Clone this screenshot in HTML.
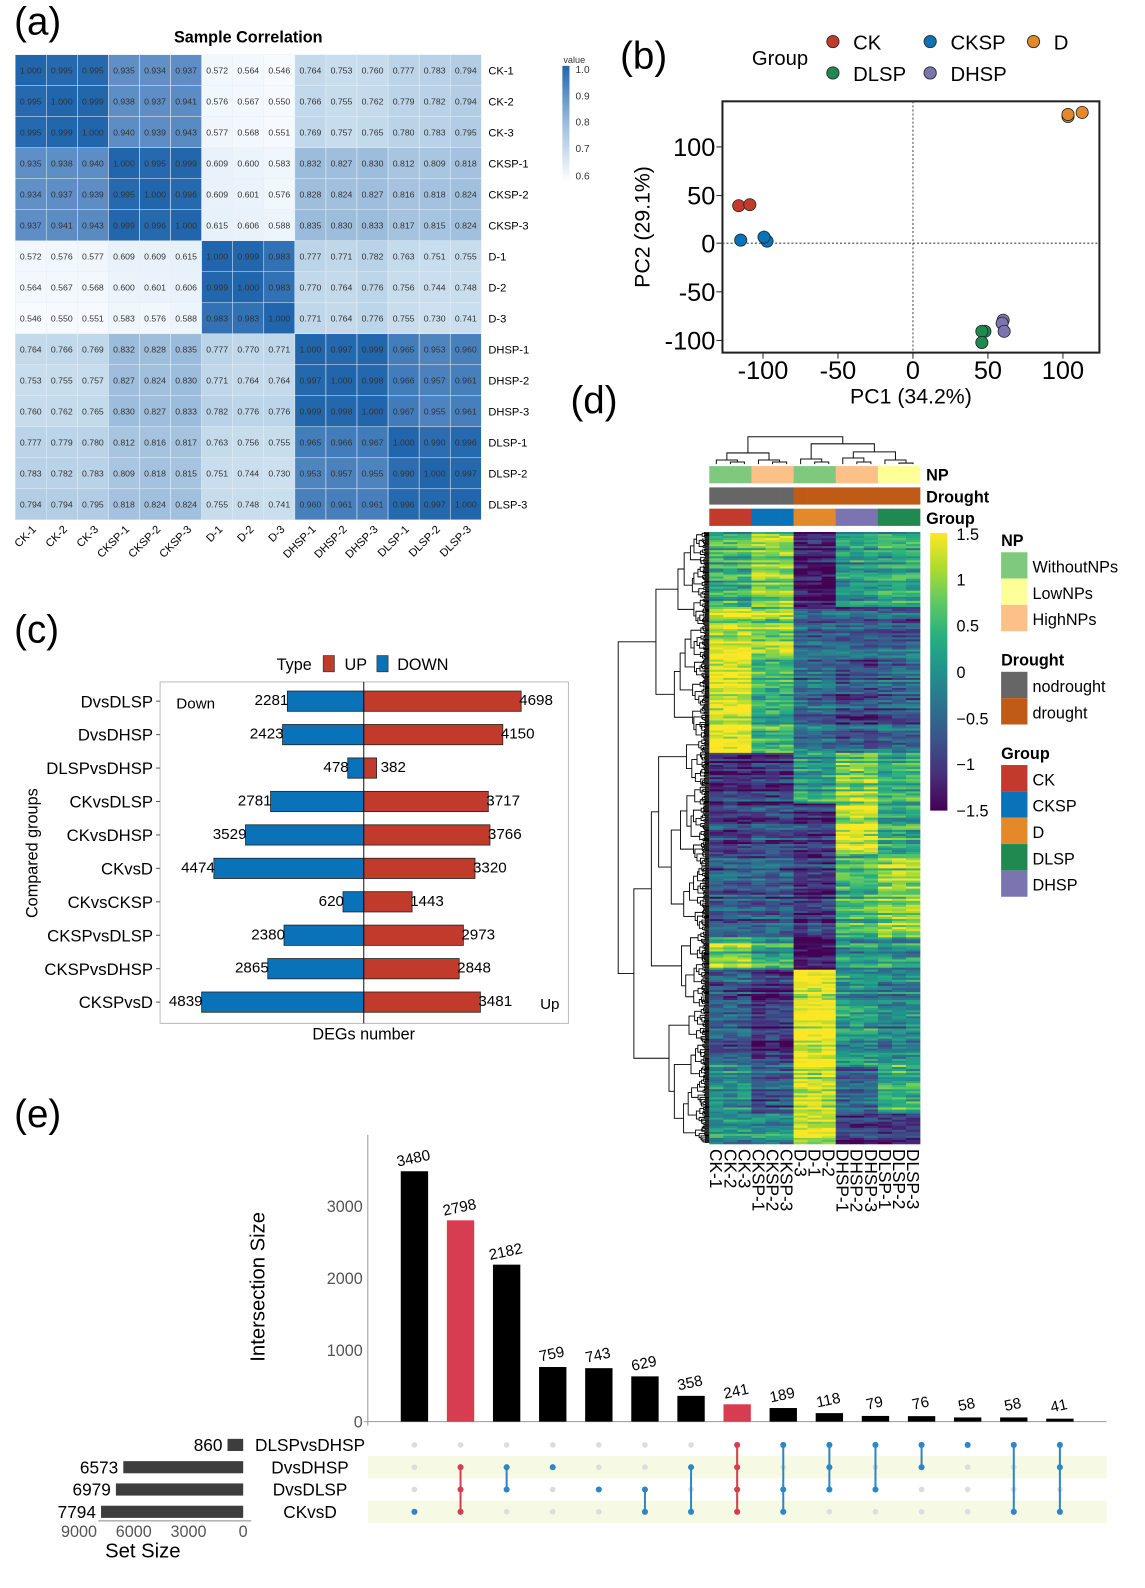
<!DOCTYPE html>
<html><head><meta charset="utf-8"><style>
html,body{margin:0;padding:0;background:#fff}
svg{display:block;font-family:"Liberation Sans",Arial,sans-serif}
</style></head><body>
<svg id="s" width="1145" height="1588" viewBox="0 0 1130 1567.2" xmlns="http://www.w3.org/2000/svg">
<defs>
<linearGradient id="cb" x1="0" y1="0" x2="0" y2="1"><stop offset="0" stop-color="#2166ac"/><stop offset="0.5" stop-color="#9dbfdd"/><stop offset="1" stop-color="#ffffff"/></linearGradient>
<linearGradient id="vir" x1="0" y1="1" x2="0" y2="0">
<stop offset="0" stop-color="#440154"/><stop offset="0.125" stop-color="#472d7b"/><stop offset="0.25" stop-color="#3b528b"/><stop offset="0.375" stop-color="#2c728e"/><stop offset="0.5" stop-color="#21918c"/><stop offset="0.625" stop-color="#28ae80"/><stop offset="0.75" stop-color="#5ec962"/><stop offset="0.875" stop-color="#addc30"/><stop offset="1" stop-color="#fde725"/></linearGradient>
</defs>
<g font-size="38"><text x="14" y="34">(a)</text><text x="612" y="68">(b)</text><text x="14" y="634">(c)</text><text x="563" y="408">(d)</text><text x="14" y="1112">(e)</text></g>
<text x="245" y="42" font-size="16" font-weight="bold" text-anchor="middle">Sample Correlation</text>
<g id="corr"></g>
<rect x="555" y="65" width="7" height="115" fill="url(#cb)"/>
<g font-size="10" fill="#333"><text x="556" y="62" font-size="9">value</text><text x="568" y="72">1.0</text><text x="568" y="98">0.9</text><text x="568" y="124">0.8</text><text x="568" y="150">0.7</text><text x="568" y="177">0.6</text></g>

<!-- PCA -->
<g font-size="20">
<text x="742" y="64">Group</text>
<circle cx="822" cy="41" r="6" fill="#c23a2c" stroke="#333"/><text x="842" y="49">CK</text>
<circle cx="918" cy="41" r="6" fill="#0a72b8" stroke="#333"/><text x="938" y="49">CKSP</text>
<circle cx="1020" cy="41" r="6" fill="#e3892a" stroke="#333"/><text x="1040" y="49">D</text>
<circle cx="822" cy="72" r="6" fill="#1f8a4f" stroke="#333"/><text x="842" y="80">DLSP</text>
<circle cx="918" cy="72" r="6" fill="#7b74b0" stroke="#333"/><text x="938" y="80">DHSP</text>
</g>
<rect x="713" y="100" width="372" height="248" fill="none" stroke="#222" stroke-width="2"/>
<line x1="901" y1="100" x2="901" y2="348" stroke="#444" stroke-dasharray="2,2"/>
<line x1="713" y1="240" x2="1085" y2="240" stroke="#444" stroke-dasharray="2,2"/>
<g stroke="#222"><line x1="707" y1="145" x2="713" y2="145"/><line x1="707" y1="193" x2="713" y2="193"/><line x1="707" y1="240" x2="713" y2="240"/><line x1="707" y1="288" x2="713" y2="288"/><line x1="707" y1="336" x2="713" y2="336"/>
<line x1="753" y1="348" x2="753" y2="354"/><line x1="827" y1="348" x2="827" y2="354"/><line x1="901" y1="348" x2="901" y2="354"/><line x1="975" y1="348" x2="975" y2="354"/><line x1="1049" y1="348" x2="1049" y2="354"/></g>
<g font-size="25" text-anchor="end"><text x="706" y="154">100</text><text x="706" y="202">50</text><text x="706" y="249">0</text><text x="706" y="297">-50</text><text x="706" y="345">-100</text></g>
<g font-size="25" text-anchor="middle"><text x="753" y="374">-100</text><text x="827" y="374">-50</text><text x="901" y="374">0</text><text x="975" y="374">50</text><text x="1049" y="374">100</text></g>
<text x="899" y="398" font-size="21" text-anchor="middle">PC1 (34.2%)</text>
<text transform="translate(641,224) rotate(-90)" font-size="21" text-anchor="middle">PC2 (29.1%)</text>
<g stroke="#222" stroke-width="0.8">
<circle cx="729" cy="203" r="6" fill="#c23a2c"/><circle cx="740" cy="202" r="6" fill="#c23a2c"/>
<circle cx="731" cy="237" r="6" fill="#0a72b8"/><circle cx="757" cy="238" r="6" fill="#0a72b8"/><circle cx="754" cy="234" r="6" fill="#0a72b8"/>
<circle cx="1054" cy="115" r="6" fill="#e3892a"/><circle cx="1054" cy="113" r="6" fill="#e3892a"/><circle cx="1068" cy="111" r="6" fill="#e3892a"/>
<circle cx="972" cy="327" r="6" fill="#1f8a4f"/><circle cx="969" cy="327" r="6" fill="#1f8a4f"/><circle cx="969" cy="338" r="6" fill="#1f8a4f"/>
<circle cx="990" cy="316" r="6" fill="#7b74b0"/><circle cx="989" cy="319" r="6" fill="#7b74b0"/><circle cx="991" cy="327" r="6" fill="#7b74b0"/>
</g>

<!-- (c) -->
<g font-size="16"><text x="273" y="661">Type</text><rect x="319" y="647" width="11" height="16" fill="#c23a2c" stroke="#333" stroke-width="0.7"/><text x="340" y="661">UP</text><rect x="372" y="647" width="11" height="16" fill="#0a72b8" stroke="#333" stroke-width="0.7"/><text x="392" y="661">DOWN</text></g>
<rect x="158" y="673" width="403" height="337" fill="none" stroke="#bbb"/>
<g id="bars"></g>
<line x1="359" y1="673" x2="359" y2="1010" stroke="#111"/>
<text x="174" y="699" font-size="15">Down</text><text x="533" y="996" font-size="15">Up</text>
<text x="359" y="1026" font-size="16" text-anchor="middle">DEGs number</text>
<text transform="translate(37,842) rotate(-90)" font-size="16" text-anchor="middle">Compared groups</text>

<!-- (d) -->
<g id="hm"></g>
<g font-size="16" font-weight="bold"><text x="914" y="474">NP</text><text x="914" y="496">Drought</text><text x="914" y="517">Group</text></g>
<rect x="918" y="526" width="17" height="274" fill="url(#vir)"/>
<g font-size="16"><text x="944" y="533">1.5</text><text x="944" y="578">1</text><text x="944" y="623">0.5</text><text x="944" y="669">0</text><text x="944" y="715">−0.5</text><text x="944" y="760">−1</text><text x="944" y="806">−1.5</text></g>
<g font-size="16">
<text x="988" y="539" font-weight="bold">NP</text>
<rect x="988" y="545" width="26" height="26" fill="#7fc97f"/><text x="1019" y="565">WithoutNPs</text>
<rect x="988" y="571" width="26" height="26" fill="#ffff99"/><text x="1019" y="591">LowNPs</text>
<rect x="988" y="597" width="26" height="26" fill="#fdc086"/><text x="1019" y="617">HighNPs</text>
<text x="988" y="657" font-weight="bold">Drought</text>
<rect x="988" y="663" width="26" height="26" fill="#666666"/><text x="1019" y="683">nodrought</text>
<rect x="988" y="689" width="26" height="26" fill="#bf5b17"/><text x="1019" y="709">drought</text>
<text x="988" y="749" font-weight="bold">Group</text>
<rect x="988" y="755" width="26" height="26" fill="#c23a2c"/><text x="1019" y="775">CK</text>
<rect x="988" y="781" width="26" height="26" fill="#0a72b8"/><text x="1019" y="801">CKSP</text>
<rect x="988" y="807" width="26" height="26" fill="#e3892a"/><text x="1019" y="827">D</text>
<rect x="988" y="833" width="26" height="26" fill="#1f8a4f"/><text x="1019" y="853">DLSP</text>
<rect x="988" y="859" width="26" height="26" fill="#7b74b0"/><text x="1019" y="879">DHSP</text>
</g>

<!-- (e) -->
<g id="up"></g>
<text transform="translate(261,1270) rotate(-90)" font-size="20" text-anchor="middle">Intersection Size</text>
<text x="141" y="1537" font-size="20" text-anchor="middle">Set Size</text>
</svg>
<script>
var S=document.getElementById('s'),NS='http://www.w3.org/2000/svg';
function el(p,t,a,txt){var e=document.createElementNS(NS,t);for(var k in a)e.setAttribute(k,a[k]);if(txt!=null)e.textContent=txt;p.appendChild(e);return e;}
function hex(c){return [parseInt(c.substr(1,2),16),parseInt(c.substr(3,2),16),parseInt(c.substr(5,2),16)];}
function interp(stops,t){t=Math.max(0,Math.min(1,t));var n=stops.length-1,i=Math.min(n-1,Math.floor(t*n)),f=t*n-i;var a=hex(stops[i]),b=hex(stops[i+1]);return 'rgb('+a.map(function(v,j){return Math.round(v+(b[j]-v)*f)}).join(',')+')';}
var M=[
[1.000,0.995,0.995,0.935,0.934,0.937,0.572,0.564,0.546,0.764,0.753,0.760,0.777,0.783,0.794],
[0.995,1.000,0.999,0.938,0.937,0.941,0.576,0.567,0.550,0.766,0.755,0.762,0.779,0.782,0.794],
[0.995,0.999,1.000,0.940,0.939,0.943,0.577,0.568,0.551,0.769,0.757,0.765,0.780,0.783,0.795],
[0.935,0.938,0.940,1.000,0.995,0.999,0.609,0.600,0.583,0.832,0.827,0.830,0.812,0.809,0.818],
[0.934,0.937,0.939,0.995,1.000,0.996,0.609,0.601,0.576,0.828,0.824,0.827,0.816,0.818,0.824],
[0.937,0.941,0.943,0.999,0.996,1.000,0.615,0.606,0.588,0.835,0.830,0.833,0.817,0.815,0.824],
[0.572,0.576,0.577,0.609,0.609,0.615,1.000,0.999,0.983,0.777,0.771,0.782,0.763,0.751,0.755],
[0.564,0.567,0.568,0.600,0.601,0.606,0.999,1.000,0.983,0.770,0.764,0.776,0.756,0.744,0.748],
[0.546,0.550,0.551,0.583,0.576,0.588,0.983,0.983,1.000,0.771,0.764,0.776,0.755,0.730,0.741],
[0.764,0.766,0.769,0.832,0.828,0.835,0.777,0.770,0.771,1.000,0.997,0.999,0.965,0.953,0.960],
[0.753,0.755,0.757,0.827,0.824,0.830,0.771,0.764,0.764,0.997,1.000,0.998,0.966,0.957,0.961],
[0.760,0.762,0.765,0.830,0.827,0.833,0.782,0.776,0.776,0.999,0.998,1.000,0.967,0.955,0.961],
[0.777,0.779,0.780,0.812,0.816,0.817,0.763,0.756,0.755,0.965,0.966,0.967,1.000,0.990,0.996],
[0.783,0.782,0.783,0.809,0.818,0.815,0.751,0.744,0.730,0.953,0.957,0.955,0.990,1.000,0.997],
[0.794,0.794,0.795,0.818,0.824,0.824,0.755,0.748,0.741,0.960,0.961,0.961,0.996,0.997,1.000]];
var names=['CK-1','CK-2','CK-3','CKSP-1','CKSP-2','CKSP-3','D-1','D-2','D-3','DHSP-1','DHSP-2','DHSP-3','DLSP-1','DLSP-2','DLSP-3'];
var cg=document.getElementById('corr'),cw=460/15,ch=459/15;
var cs=['#f7fbff','#e6f0f9','#c6dcec','#9dbddc','#5c8dc4','#2166ac'],cv=[0.546,0.62,0.76,0.83,0.94,1.0];
function ccol(v){for(var i=0;i<cv.length-1;i++){if(v<=cv[i+1]){var f=(v-cv[i])/(cv[i+1]-cv[i]);var a=hex(cs[i]),b=hex(cs[i+1]);return 'rgb('+a.map(function(x,j){return Math.round(x+(b[j]-x)*f)}).join(',')+')';}}return cs[5];}
for(var r=0;r<15;r++){for(var c=0;c<15;c++){var x=15+c*cw,y=54+r*ch;el(cg,'rect',{x:x,y:y,width:cw,height:ch,fill:ccol(M[r][c]),stroke:'#e8eef5','stroke-width':0.5});
el(cg,'text',{x:x+cw/2,y:y+ch/2+3,'font-size':8.6,'text-anchor':'middle',fill:'#333'},M[r][c].toFixed(3));}
el(cg,'text',{x:482,y:54+r*ch+ch/2+4,'font-size':11},names[r]);
el(cg,'text',{transform:'translate('+(15+r*cw+cw/2+6)+',523) rotate(-45)','font-size':11,'text-anchor':'end'},names[r]);}
var bg=document.getElementById('bars');
var B=[['DvsDLSP',2281,4698],['DvsDHSP',2423,4150],['DLSPvsDHSP',478,382],['CKvsDLSP',2781,3717],['CKvsDHSP',3529,3766],['CKvsD',4474,3320],['CKvsCKSP',620,1443],['CKSPvsDLSP',2380,2973],['CKSPvsDHSP',2865,2848],['CKSPvsD',4839,3481]];
var sc=160/4839;
B.forEach(function(b,i){var y=692+33*i;el(bg,'rect',{x:359-b[1]*sc,y:y-10,width:b[1]*sc,height:20,fill:'#0a72b8',stroke:'#222','stroke-width':0.8});
el(bg,'rect',{x:359,y:y-10,width:b[2]*sc,height:20,fill:'#c23a2c',stroke:'#222','stroke-width':0.8});
el(bg,'text',{x:151,y:y+6,'font-size':16.5,'text-anchor':'end'},b[0]);el(bg,'line',{x1:154,y1:y,x2:158,y2:y,stroke:'#555'});
el(bg,'text',{x:359-b[1]*sc+1,y:y+4,'font-size':15,'text-anchor':'end'},b[1]);
el(bg,'text',{x:359+b[2]*sc+(b[2]<1000?4:-2),y:y+4,'font-size':15},b[2]);});
var hg=document.getElementById('hm'),X0=700,W=208/15;
var seed=7;function rnd(){seed=(seed*16807)%2147483647;return seed/2147483647;}
var grp=[0,0,0,1,1,1,2,2,2,3,3,3,4,4,4];
var segs=[[525,598,[0.3,0.8,-1.5,0,0.2]],[598,645,[1.2,0.9,-0.6,-0.6,-0.6]],[645,742,[1.4,0.4,-0.5,-0.8,-0.6]],[742,792,[-1.1,-1.0,0.2,0.9,0.4]],[792,842,[-1.0,-0.8,-1.0,1.3,0.3]],[842,924,[-0.6,-0.6,-1.0,0.5,1.0]],[924,956,[0.8,0.2,-1.5,0,0]],[956,1051,[-0.7,-1.1,1.4,0,-0.2]],[1051,1098,[0,-0.6,1.3,-0.5,0.4]],[1098,1128,[0,0,1.3,-1.0,-1.0]]];
var vs=['#440154','#472d7b','#3b528b','#2c728e','#21918c','#28ae80','#5ec962','#addc30','#fde725'];
for(var y=525;y<1128;y+=2){var p;segs.forEach(function(s){if(y>=s[0]&&y<s[1])p=s[2];});var rn=(rnd()-0.5)*1.0;
for(var c=0;c<15;c++){var v=p[grp[c]]+rn+(rnd()-0.5)*0.8;el(hg,'rect',{x:X0+c*W,y:y,width:W+0.3,height:2.3,fill:interp(vs,(v+1.5)/3)});}}
var np=['#7fc97f','#7fc97f','#7fc97f','#fdc086','#fdc086','#fdc086','#7fc97f','#7fc97f','#7fc97f','#fdc086','#fdc086','#fdc086','#ffff99','#ffff99','#ffff99'];
var gc=['#c23a2c','#0a72b8','#e3892a','#7b74b0','#1f8a4f'];
for(var c=0;c<15;c++){el(hg,'rect',{x:X0+c*W,y:460,width:W+0.3,height:17,fill:np[c]});el(hg,'rect',{x:X0+c*W,y:481,width:W+0.3,height:17,fill:c<6?'#666666':'#bf5b17'});el(hg,'rect',{x:X0+c*W,y:502,width:W+0.3,height:17,fill:gc[grp[c]]});}
var hn=['CK-1','CK-2','CK-3','CKSP-1','CKSP-2','CKSP-3','D-3','D-1','D-2','DHSP-1','DHSP-2','DHSP-3','DLSP-1','DLSP-2','DLSP-3'];
for(var c=0;c<15;c++)el(hg,'text',{transform:'translate('+(X0+c*W+W/2-6)+',1134) rotate(90)','font-size':17},hn[c]);
function cx(i){return X0+W*(i+0.5);}
function U(a,b,ya,yb,y){var d='M'+a+' '+ya+'V'+y+'H'+b+'V'+yb;el(hg,'path',{d:d,fill:'none',stroke:'#111','stroke-width':1});}
U(cx(1),cx(2),458,458,456);U(cx(0),(cx(1)+cx(2))/2,458,456,454);
U(cx(4),cx(5),458,458,456);U(cx(3),(cx(4)+cx(5))/2,458,456,454);
var l1=(cx(0)+cx(1.5))/2,r1=(cx(3)+cx(4.5))/2;U(l1,r1,454,454,447);
U(cx(7),cx(8),458,458,456);U(cx(6),(cx(7)+cx(8))/2,458,456,453);
U(cx(10),cx(11),458,458,456);U(cx(9),(cx(10)+cx(11))/2,458,456,452);
U(cx(13),cx(14),458,458,457);U(cx(12),(cx(13)+cx(14))/2,458,457,454);
var a2=(cx(9)+cx(10.5))/2,b2=(cx(12)+cx(13.5))/2;U(a2,b2,452,454,446);
var a3=(cx(6)+cx(7.5))/2,b3=(a2+b2)/2;U(a3,b3,453,446,438);
U((l1+r1)/2,(a3+b3)/2,447,438,431);
var N=603;
function tree(lo,hi){if(hi-lo<=1)return {y:525+lo+0.5,x:700};var m=lo+1+Math.floor(rnd()*(hi-lo-1));if(hi-lo>6){m=lo+Math.floor((hi-lo)*(0.25+rnd()*0.5));}
var L=tree(lo,m),R=tree(m,hi);var sz=hi-lo;var x=700-97*Math.pow(sz/N,0.55)*(0.85+rnd()*0.15);x=Math.min(x,Math.min(L.x,R.x)-0.5);
el(hg,'path',{d:'M'+L.x+' '+L.y+'H'+x+'V'+R.y+'H'+R.x,fill:'none',stroke:'#000','stroke-width':0.9});return {y:(L.y+R.y)/2,x:x};}
seed=123;tree(0,N);
var ug=document.getElementById('up');
el(ug,'line',{x1:363,y1:1120,x2:363,y2:1407,stroke:'#999'});el(ug,'line',{x1:359,y1:1403,x2:1092,y2:1403,stroke:'#999'});
[0,1000,2000,3000].forEach(function(v){var y=1403-v*0.071;el(ug,'text',{x:358,y:y+6,'font-size':16,'text-anchor':'end',fill:'#555'},v);});
el(ug,'rect',{x:363,y:1437,width:729,height:22,fill:'#f6f9e3'});el(ug,'rect',{x:363,y:1481,width:729,height:22,fill:'#f6f9e3'});
var V=[3480,2798,2182,759,743,629,358,241,189,118,79,76,58,58,41];
var mem=[[3],[1,2,3],[1,2],[1],[2],[2,3],[1,3],[0,1,2,3],[0,2,3],[0,1,2],[0,2],[0,1],[0],[0,3],[0,1,3]];
var ry=[1426,1448,1470,1492];
V.forEach(function(v,i){var x=409+45.5*i,red=(i==1||i==7),col=red?'#d63d50':'#000';var h=v*0.071;
el(ug,'rect',{x:x-13.5,y:1403-h,width:27,height:h,fill:col});
el(ug,'text',{transform:'translate('+x+','+(1403-h-8)+') rotate(-12)','font-size':15,'text-anchor':'middle'},v);
for(var r=0;r<4;r++)el(ug,'circle',{cx:x,cy:ry[r],r:2.8,fill:'#dddddd'});
var m=mem[i],dc=red?'#d63d50':'#2f86c4';if(m.length>1)el(ug,'line',{x1:x,y1:ry[m[0]],x2:x,y2:ry[m[m.length-1]],stroke:dc,'stroke-width':2});
m.forEach(function(r){el(ug,'circle',{cx:x,cy:ry[r],r:3,fill:dc});});});
var SS=[['DLSPvsDHSP',860],['DvsDHSP',6573],['DvsDLSP',6979],['CKvsD',7794]];
SS.forEach(function(s,i){var y=ry[i],w=s[1]*0.018;el(ug,'rect',{x:240-w,y:y-6,width:w,height:12,fill:'#3d3d3d'});
el(ug,'text',{x:240-w-5,y:y+6,'font-size':17,'text-anchor':'end'},s[1]);el(ug,'text',{x:306,y:y+6,'font-size':17,'text-anchor':'middle'},s[0]);});
el(ug,'line',{x1:97,y1:1501,x2:248,y2:1501,stroke:'#888'});
[[9000,78],[6000,132],[3000,186],[0,240]].forEach(function(t){el(ug,'text',{x:t[1],y:1517,'font-size':16,'text-anchor':'middle',fill:'#555'},t[0]);});
</script>
</body></html>
